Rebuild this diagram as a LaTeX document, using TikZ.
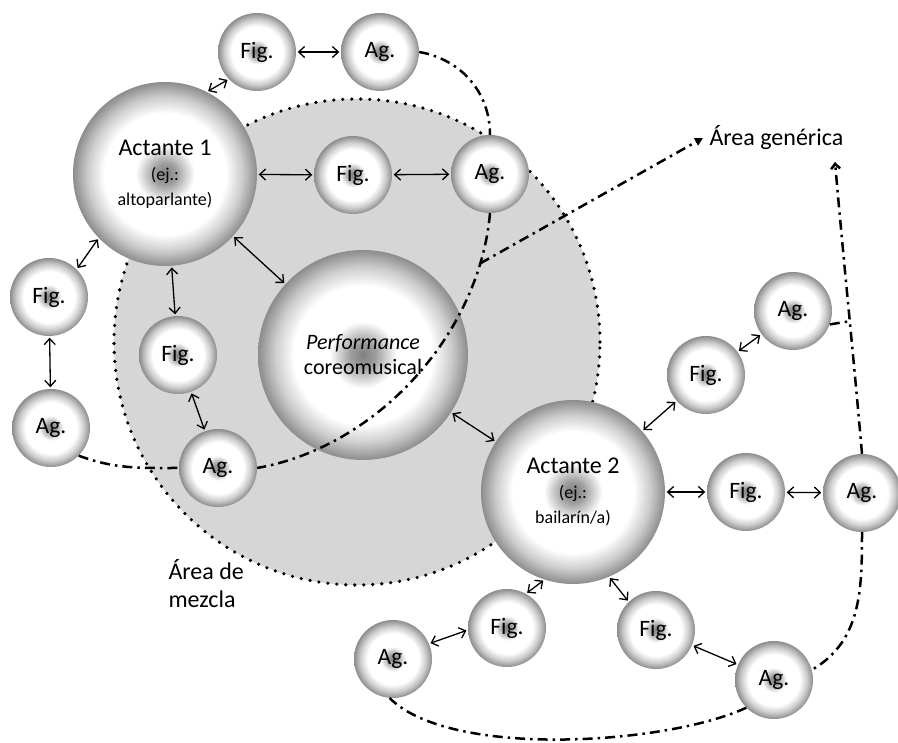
\documentclass[tikz,border=0pt]{standalone}
\usepackage{fontspec}
\setmainfont{Carlito}
\usetikzlibrary{arrows.meta}

\pgfdeclareradialshading{bubble}{\pgfpointorigin}{color(0bp)=(black!50); color(3bp)=(black!38); color(8bp)=(white); color(16.5bp)=(white); color(21bp)=(black!20); color(25bp)=(black!45); color(50bp)=(black!45)}
\newcommand{\exfont}{\fontsize{18}{20}\selectfont}

\begin{document}
\begin{tikzpicture}[x=1pt, y=1pt,
		>={Straight Barb[length=6pt,width=11pt]},
		bubble/.style={circle, shading=bubble, minimum size=78pt, inner sep=0pt, font=\fontsize{23.5}{26}\selectfont},
		actant/.style={bubble, minimum size=184pt, align=center, font=\fontsize{24}{25}\selectfont},
		area/.style={circle, minimum size=486pt, fill=black!16, draw=black, line width=3.6pt, line cap=round, dash pattern=on 0pt off 9pt},
		link/.style={<->, line width=1.3pt, shorten <=1.5pt, shorten >=1.5pt},
		blend/.style={line width=2.5pt, dash pattern=on 10pt off 5pt on 2.5pt off 5pt}]
		\useasboundingbox (0,0) rectangle (898,743);
		\node[area] (mix) at (357,401) {};
		
		\node[actant] (act1) at (165,569) {Actante 1\\ \exfont (ej.:\\ \exfont altoparlante)};
		\node[actant, minimum size=210pt, font=\fontsize{22}{25}\selectfont] (perf) at (363,388) {\textit{Performance}\\ coreomusical};
		\node[actant] (act2) at (573,251) {Actante 2\\ \exfont (ej.:\\ \exfont bailarín/a)};
		
		\node[bubble] (figT) at (257,691) {Fig.};
		\node[bubble] (agT) at (380,691) {Ag.};
		\node[bubble] (figM) at (353,568) {Fig.};
		\node[bubble] (agM) at (490,569) {Ag.};
		\node[bubble] (figL) at (49,446) {Fig.};
		\node[bubble] (agL) at (51,315) {Ag.};
		\node[bubble] (figI) at (178,388) {Fig.};
		\node[bubble] (agI) at (218,275) {Ag.};
		
		\node[bubble] (figRU) at (706,368) {Fig.};
		\node[bubble] (agRU) at (793,432) {Ag.};
		\node[bubble] (figR) at (746,251) {Fig.};
		\node[bubble] (agR) at (862,250) {Ag.};
		\node[bubble] (figBL) at (507,115) {Fig.};
		\node[bubble] (agBL) at (393,84) {Ag.};
		\node[bubble] (figBR) at (656,113) {Fig.};
		\node[bubble] (agBR) at (774,63) {Ag.};
		
		\node[anchor=west, font=\fontsize{24}{26}\selectfont] (gen) at (706,605) {Área genérica};
		\node[anchor=west, align=left, font=\fontsize{24}{28}\selectfont] (mezcla) at (165,159) {Área de\\mezcla};
		\coordinate (gentip) at (835,581);
		
		\draw[link] (act1.63) -- (figT.-136);
		\draw[link] (figT) -- (agT);
		\draw[link] (act1) -- (figM);
		\draw[link] (figM) -- (agM);
		\draw[link] (act1.-136) -- (figL.45);
		\draw[link] (figL) -- (agL);
		\draw[link] (act1) -- (figI);
		\draw[link] (figI) -- (agI);
		\draw[link] (act1) -- (perf);
		\draw[link] (perf) -- (act2);
		
		\draw[link] (act2) -- (figRU);
		\draw[link] (figRU) -- (agRU);
		\draw[link] (act2) -- (figR);
		\draw[link] (figR) -- (agR);
		\draw[link] (act2.-108) -- (figBL.61);
		\draw[link] (figBL.-177) -- (agBL.23);
		\draw[link] (act2.-67) -- (figBR.134);
		\draw[link] (figBR) -- (agBR);
		
		\draw[blend] (agT.east) to[out=-10, in=90] (agM.north);
		\draw[blend] (agM.south) to[out=-95, in=10, looseness=0.9] coordinate[pos=0.14] (junc) (agI.east);
		\draw[blend] (agL.south east) to[out=-20, in=180] (agI.west);
		\draw[blend, -{Triangle[length=8pt,width=8pt]}] (junc) -- ([xshift=-3pt]gen.west);
		\draw[blend, -{Straight Barb[length=5pt,width=9pt]}] (agR.north) to[out=95, in=-85] coordinate[pos=0.45] (junc2) (gentip);
		\draw[blend] (agRU.-20) -- (junc2);
		\draw[blend] (agR.south) to[out=-90, in=30] (agBR.15);
		\draw[blend] (agBR.-135) to[out=-155, in=-45, looseness=0.62] (agBL.-95);
\end{tikzpicture}
\end{document}
